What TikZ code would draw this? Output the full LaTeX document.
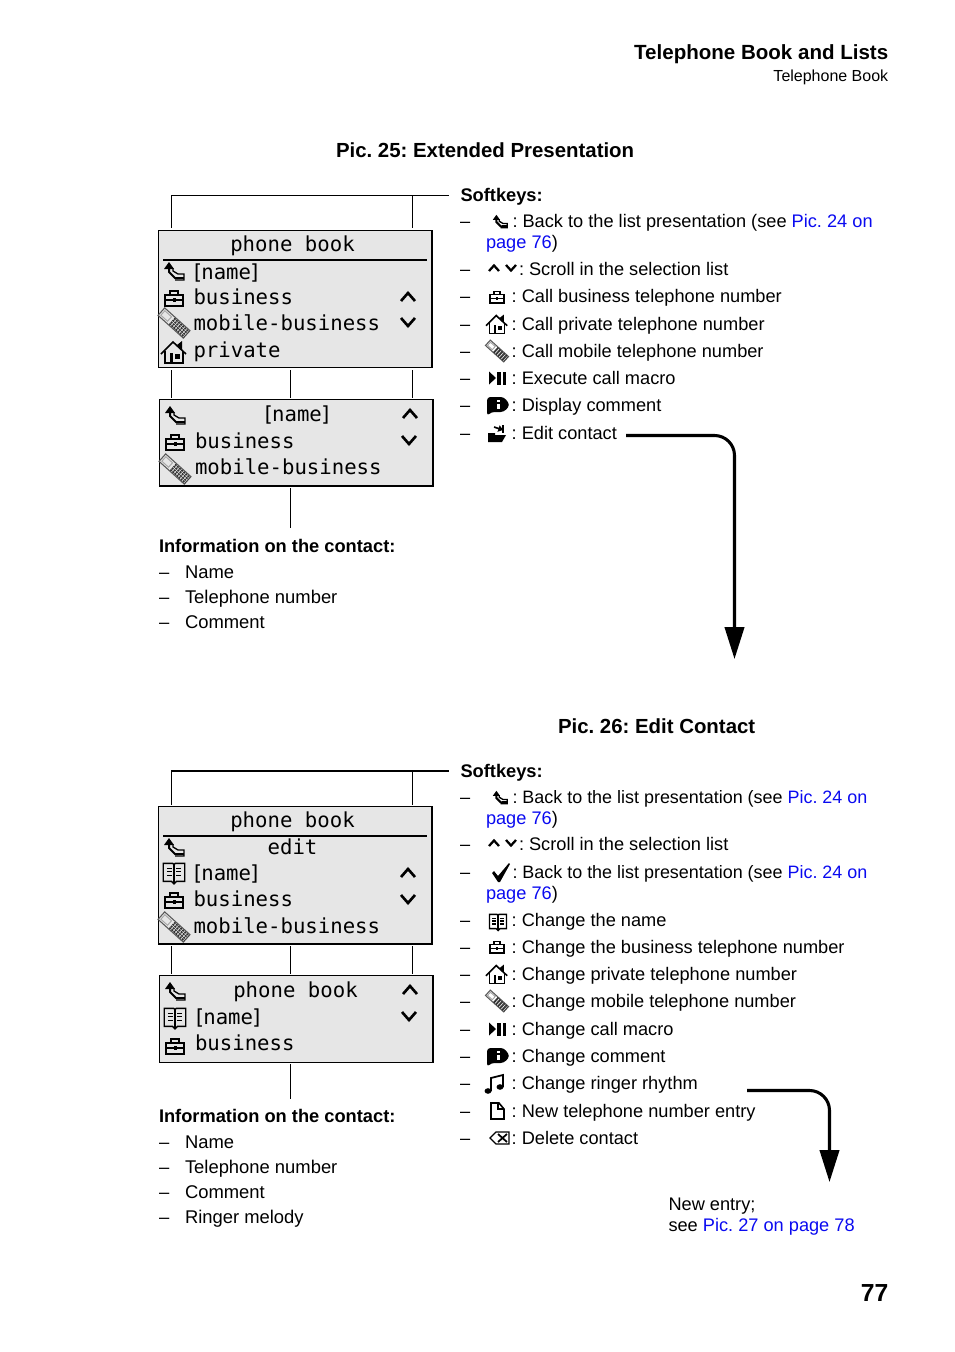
\documentclass[tikz,border=0pt]{standalone}
\usepackage{fontspec}
\setmainfont{Liberation Sans}
\newfontfamily\lcd{DejaVu Sans Mono}
\usetikzlibrary{arrows.meta}
\definecolor{lcdgray}{HTML}{E6E6E6}
\definecolor{linkblue}{HTML}{0A0AF0}
\newcommand{\lk}[1]{\textcolor{linkblue}{#1}}
\newcommand{\nm}{[\kern-1.6pt name\kern-1.6pt]}
\frenchspacing
\tikzset{
  x=0.75pt,y=-0.75pt,
  txt/.style={anchor=base west,inner sep=0pt,outer sep=0pt,font=\fontsize{13.65}{16}\selectfont},
  ntxt/.style={anchor=base west,inner sep=0pt,outer sep=0pt,font=\fontsize{13.45}{16}\selectfont},
  itxt/.style={anchor=base west,inner sep=0pt,outer sep=0pt,font=\fontsize{13.8}{16}\selectfont},
  hd/.style={anchor=base west,inner sep=0pt,outer sep=0pt,font=\fontsize{13.7}{16}\selectfont\bfseries},
  ttl/.style={anchor=base west,inner sep=0pt,outer sep=0pt,font=\fontsize{15.3}{18}\selectfont\bfseries},
  lcdbox/.style={draw=black,fill=lcdgray,line width=0.8pt,inner sep=0pt,outer sep=0pt},
  lcdl/.style={anchor=base west,inner sep=0pt,outer sep=0pt,yshift=-0.75pt,font=\lcd\fontsize{15.5}{18}\selectfont},
  lcdc/.style={anchor=base,inner sep=0pt,outer sep=0pt,yshift=-0.75pt,font=\lcd\fontsize{15.5}{18}\selectfont},
  conn/.style={line width=0.75pt,black},
  bigarrow/.style={line width=2.3pt,black,-{Triangle[length=24pt,width=14.5pt]}},
  ic/.style={line width=1pt,black,line join=miter},
  backicon/.pic={
    \fill (-10,-3) -- (-5,-10) -- (0,-3) -- cycle;
    \draw[ic,line width=1.5pt] (-5,-3) -- (-5,0) -- (1,6) -- (4,6);
    \draw[ic] (-1,-4) -- (-1,-1) -- (4,2) -- (10,2) -- (10,8) -- (1,8);
    \draw[ic,line width=1.3pt] (3,6) -- (10,6);
  },
  caseicon/.pic={
    \draw[ic,line width=1.2pt] (-9,-3) rectangle (9,8);
    \draw[ic,line width=1.2pt] (-4,-3) -- (-4,-7) -- (4,-7) -- (4,-3);
    \draw[ic,line width=1.2pt] (-9,2) -- (9,2);
    \fill (-1.5,0) rectangle (1.5,4);
  },
  phoneicon/.pic={
    \begin{scope}[rotate=-42]
      \draw[line width=0.8pt,black!65] (-17,-5) rectangle (17,5);
      \draw[line width=0.7pt,black!35] (-15,-3) rectangle (-6,3);
      \foreach \yy in {-3.5,-1.2,1.2,3.5}
        \draw[line width=1.3pt,black!80,dash pattern=on 1.4pt off 0.7pt] (-3,\yy) -- (17,\yy);
    \end{scope}
  },
  houseicon/.pic={
    \draw[ic,line width=1.2pt] (-13,2) -- (-1,-10) -- (12,2);
    \fill (3,-7) -- (8,-11) -- (8,-2) -- cycle;
    \draw[ic,line width=1.2pt] (-9,-1) -- (-9,11) -- (9,11) -- (9,-1);
    \fill (-4,1) rectangle (-1,11);
    \fill (1,2) rectangle (6,7);
  },
  macroicon/.pic={
    \fill (-9,-6.5) -- (-2,0) -- (-9,6.5) -- cycle;
    \fill (-1,-6.5) rectangle (2.5,6.5);
    \fill (4.5,-6.5) rectangle (8,6.5);
  },
  commenticon/.pic={
    \fill[rounded corners=2.5pt] (-11,-8) -- (6,-8) -- (12,0) -- (6,7) -- (-7,7) -- (-11,11) -- cycle;
    \fill[white] (-1.5,-5.5) rectangle (1.5,-3);
    \fill[white] (-1.5,-1.5) rectangle (1.5,4);
  },
  editicon/.pic={
    \fill (-9,-1) -- (-2,-1) -- (-2,1) -- (9,1) -- (5,8) -- (-9,8) -- cycle;
    \draw[ic,line width=1.2pt,-{Triangle[length=3.5pt,width=5pt]}] (-3,-7) -- (6,-4);
    \draw[ic,line width=1pt] (6,-9) -- (6,-1);
  },
  upchev/.pic={\draw[line width=2pt,black] (-7,4) -- (0,-4) -- (7,4);},
  dnchev/.pic={\draw[line width=2pt,black] (-7,-4) -- (0,4) -- (7,-4);},
  checkicon/.pic={
    \fill (-9,0) -- (-7,-2) -- (-3,3) -- (8,-10) -- (9,-9) -- (-1,9) -- (-3,9) -- cycle;
  },
  bookicon/.pic={
    \draw[ic] (-9,-8) -- (-1,-8) -- (0,-7) -- (1,-8) -- (9,-8) -- (9,7) -- (2,7) -- (0,9) -- (-2,7) -- (-9,7) -- cycle;
    \draw[ic] (-6,-4) -- (-2,-4) (2,-4) -- (6,-4) (-6,-1) -- (-2,-1) (2,-1) -- (6,-1) (-6,2) -- (-2,2) (2,2) -- (6,2);
    \draw[ic] (0,-7) -- (0,8);
  },
  noteicon/.pic={
    \draw[ic,line width=1.3pt] (-5,8) -- (-5,-5) -- (7,-8) -- (7,4);
    \fill (-8,8) ellipse (3.5 and 2.8);
    \fill (4,4) ellipse (3.5 and 2.8);
  },
  newicon/.pic={
    \draw[ic,line width=1.2pt] (-6,-8) -- (2,-8) -- (7,-2) -- (7,8) -- (-6,8) -- cycle;
    \draw[ic,line width=1.2pt] (1,-8) -- (1,-2) -- (7,-2);
  },
  delicon/.pic={
    \draw[ic] (-10,0) -- (-4,-6) -- (9,-6) -- (9,6) -- (-4,6) -- cycle;
    \draw[ic,line width=1.3pt] (-2,-4) -- (7,4) (-2,4) -- (7,-4);
  },
  upsmall/.pic={\draw[line width=1.7pt,black] (-5,3) -- (0,-2.5) -- (5,3);},
  dnsmall/.pic={\draw[line width=1.7pt,black] (-5,-3) -- (0,2.5) -- (5,-3);}
}
\newcommand{\sk}[4]{%
  \node[txt] (#1d) at (460,#2) {–};
  \node[txt] (#1) at (#3,#2) {#4};}
\newcommand{\skn}[4]{%
  \node[txt] (#1d) at (460,#2) {–};
  \node[ntxt] (#1) at (#3,#2) {#4};}
\newcommand{\ico}[3]{\pic[#3] at #2 {#1};}
\begin{document}
\begin{tikzpicture}
\useasboundingbox (0,0) rectangle (954,1352);

% page header
\node[anchor=base east,inner sep=0pt,font=\fontsize{15.4}{18}\selectfont\bfseries] (hA) at (888.5,59.5) {Telephone Book and Lists};
\node[anchor=base east,inner sep=0pt,font=\fontsize{12}{14}\selectfont] (hB) at (888.5,81.5) {Telephone Book};
\node[ttl] (t25) at (336,157) {Pic. 25: Extended Presentation};
\node[ttl] (t26) at (558,733) {Pic. 26: Edit Contact};
\node[anchor=base east,inner sep=0pt,font=\fontsize{18.5}{20}\selectfont\bfseries] (pg) at (888.5,1301) {77};

% screens
\node[lcdbox,minimum width=205.1pt,minimum height=102.75pt] (s1) at (295.25,299) {};
\node[lcdbox,minimum width=205.1pt,minimum height=64.9pt] (s2) at (296.25,442.75) {};
\node[lcdbox,minimum width=205.1pt,minimum height=103.1pt] (s3) at (295.25,875.25) {};
\node[lcdbox,minimum width=205.1pt,minimum height=65.25pt] (s4) at (296.25,1019) {};

% connectors Pic 25
\coordinate (a1) at (171.5,228); \coordinate (a2) at (171.5,195.5); \coordinate (a3) at (449,195.5);
\coordinate (a4) at (412.5,195.5); \coordinate (a5) at (412.5,228);
\draw[conn] (a1) -- (a2) -- (a3);
\draw[conn] (a4) -- (a5);
\coordinate (b1) at (171.5,370); \coordinate (b2) at (171.5,398);
\coordinate (b3) at (290.5,370); \coordinate (b4) at (290.5,398);
\coordinate (b5) at (412.5,370); \coordinate (b6) at (412.5,398);
\draw[conn] (b1) -- (b2); \draw[conn] (b3) -- (b4); \draw[conn] (b5) -- (b6);
\coordinate (b7) at (290.5,488); \coordinate (b8) at (290.5,528);
\draw[conn] (b7) -- (b8);

% connectors Pic 26
\coordinate (c1) at (171.5,805); \coordinate (c2) at (171.5,771); \coordinate (c3) at (449,771);
\coordinate (c4) at (412.5,771); \coordinate (c5) at (412.5,805);
\draw[conn,line width=1.1pt] (c1) -- (c2) -- (c3);
\draw[conn] (c4) -- (c5);
\coordinate (d1) at (171.5,946); \coordinate (d2) at (171.5,974);
\coordinate (d3) at (290.5,946); \coordinate (d4) at (290.5,974);
\coordinate (d5) at (412.5,946); \coordinate (d6) at (412.5,974);
\draw[conn] (d1) -- (d2); \draw[conn] (d3) -- (d4); \draw[conn] (d5) -- (d6);
\coordinate (d7) at (290.5,1064); \coordinate (d8) at (290.5,1099);
\draw[conn] (d7) -- (d8);

% screen 1
\node[lcdc] (s1a) at (292.5,250) {phone book};
\draw[line width=1.5pt] (163,260) -- (427,260);
\node[lcdl] (s1b) at (191,278) {\nm};
\node[lcdl] (s1c) at (193.5,303) {business};
\node[lcdl] (s1d) at (193.5,329) {mobile-business};
\node[lcdl] (s1e) at (193.5,356) {private};
\ico{backicon}{(174,272)}{}
\ico{caseicon}{(174,298)}{}
\ico{phoneicon}{(174,323)}{}
\ico{houseicon}{(174,352)}{}
\ico{upchev}{(408,297)}{}
\ico{dnchev}{(408,322)}{}

% screen 2
\node[lcdc] (s2a) at (297,420) {\nm};
\node[lcdl] (s2b) at (195,447) {business};
\node[lcdl] (s2c) at (195,473) {mobile-business};
\ico{backicon}{(175,416)}{}
\ico{caseicon}{(175,442)}{}
\ico{phoneicon}{(175,469)}{}
\ico{upchev}{(410,414)}{}
\ico{dnchev}{(409,440)}{}

% screen 3
\node[lcdc] (s3a) at (292.5,826) {phone book};
\draw[line width=1.5pt] (163,836) -- (427,836);
\node[lcdc] (s3b) at (292.5,853) {edit};
\node[lcdl] (s3c) at (191,879) {\nm};
\node[lcdl] (s3d) at (193.5,905) {business};
\node[lcdl] (s3e) at (193.5,932) {mobile-business};
\ico{backicon}{(174,848)}{}
\ico{bookicon}{(174,873)}{scale=1.2}
\ico{caseicon}{(174,900)}{}
\ico{phoneicon}{(174,927)}{}
\ico{upchev}{(408,873)}{}
\ico{dnchev}{(408,899)}{}

% screen 4
\node[lcdc] (s4a) at (295.5,996) {phone book};
\node[lcdl] (s4b) at (193,1023) {\nm};
\node[lcdl] (s4c) at (195,1049) {business};
\ico{backicon}{(175,992)}{}
\ico{bookicon}{(175,1018)}{scale=1.2}
\ico{caseicon}{(175,1046)}{}
\ico{upchev}{(410,990)}{}
\ico{dnchev}{(409,1016)}{}

% information 25
\node[hd] (i1) at (159,552) {Information on the contact:};
\node[itxt] (i2d) at (159,578) {–}; \node[itxt] (i2) at (185,578) {Name};
\node[itxt] (i3d) at (159,603) {–}; \node[itxt] (i3) at (185,603) {Telephone number};
\node[itxt] (i4d) at (159,628) {–}; \node[itxt] (i4) at (185,628) {Comment};

% information 26
\node[hd] (j1) at (159,1122) {Information on the contact:};
\node[itxt] (j2d) at (159,1148) {–}; \node[itxt] (j2) at (185,1148) {Name};
\node[itxt] (j3d) at (159,1173) {–}; \node[itxt] (j3) at (185,1173) {Telephone number};
\node[itxt] (j4d) at (159,1198) {–}; \node[itxt] (j4) at (185,1198) {Comment};
\node[itxt] (j5d) at (159,1223) {–}; \node[itxt] (j5) at (185,1223) {Ringer melody};

% softkeys 25
\node[hd] (k0) at (460.5,201) {Softkeys:};
\sk{k1}{227}{512.5}{: Back to the list presentation (see \lk{Pic. 24 on}}
\node[txt] (k1b) at (486,248) {\lk{page 76})};
\sk{k2}{275}{519}{: Scroll in the selection list}
\sk{k3}{302}{511.7}{: Call business telephone number}
\sk{k4}{330}{511.7}{: Call private telephone number}
\sk{k5}{357}{511.7}{: Call mobile telephone number}
\sk{k6}{384}{511.7}{: Execute call macro}
\sk{k7}{411}{511.7}{: Display comment}
\sk{k8}{439}{511.7}{: Edit contact}
\ico{backicon}{(500,222)}{scale=0.72}
\ico{upsmall}{(494,268)}{}
\ico{dnsmall}{(511,268)}{}
\ico{caseicon}{(497,297)}{scale=0.78}
\ico{houseicon}{(497,324)}{scale=0.85}
\ico{phoneicon}{(497,351)}{scale=0.72}
\ico{macroicon}{(498,378)}{}
\ico{commenticon}{(498,405)}{}
\ico{editicon}{(497,434)}{}

% softkeys 26
\node[hd] (m0) at (460.5,777) {Softkeys:};
\skn{m1}{803}{512.5}{: Back to the list presentation (see \lk{Pic. 24 on}}
\node[txt] (m1b) at (486,824) {\lk{page 76})};
\sk{m2}{850}{519}{: Scroll in the selection list}
\skn{m3}{878}{512.5}{: Back to the list presentation (see \lk{Pic. 24 on}}
\node[txt] (m3b) at (486,899) {\lk{page 76})};
\sk{m4}{926}{511.7}{: Change the name}
\sk{m5}{953}{511.7}{: Change the business telephone number}
\sk{m6}{980}{511.7}{: Change private telephone number}
\sk{m7}{1007}{511.7}{: Change mobile telephone number}
\sk{m8}{1035}{511.7}{: Change call macro}
\sk{m9}{1062}{511.7}{: Change comment}
\sk{m10}{1089}{511.7}{: Change ringer rhythm}
\sk{m11}{1117}{511.7}{: New telephone number entry}
\sk{m12}{1144}{511.7}{: Delete contact}
\ico{backicon}{(500,798)}{scale=0.72}
\ico{upsmall}{(494,843)}{}
\ico{dnsmall}{(511,843)}{}
\ico{checkicon}{(501,873)}{}
\ico{bookicon}{(498,922)}{scale=0.95}
\ico{caseicon}{(497,947)}{scale=0.78}
\ico{houseicon}{(497,974)}{scale=0.85}
\ico{phoneicon}{(497,1001)}{scale=0.72}
\ico{macroicon}{(498,1029)}{}
\ico{commenticon}{(498,1056)}{}
\ico{noteicon}{(496,1083)}{}
\ico{newicon}{(497,1111)}{}
\ico{delicon}{(500,1138)}{}

% big arrows
\coordinate (e1) at (626,435.5); \coordinate (e2) at (734.5,435.5); \coordinate (e3) at (734.5,659);
\draw[bigarrow,rounded corners=15pt] (e1) -- (e2) -- (e3);
\coordinate (f1) at (747,1090.5); \coordinate (f2) at (829.5,1090.5); \coordinate (f3) at (829.5,1182);
\draw[bigarrow,rounded corners=15pt] (f1) -- (f2) -- (f3);

% new entry
\node[txt] (n1) at (668.5,1210) {New entry;};
\node[txt] (n2) at (668.5,1231) {see \lk{Pic. 27 on page 78}};
\end{tikzpicture}
\end{document}
